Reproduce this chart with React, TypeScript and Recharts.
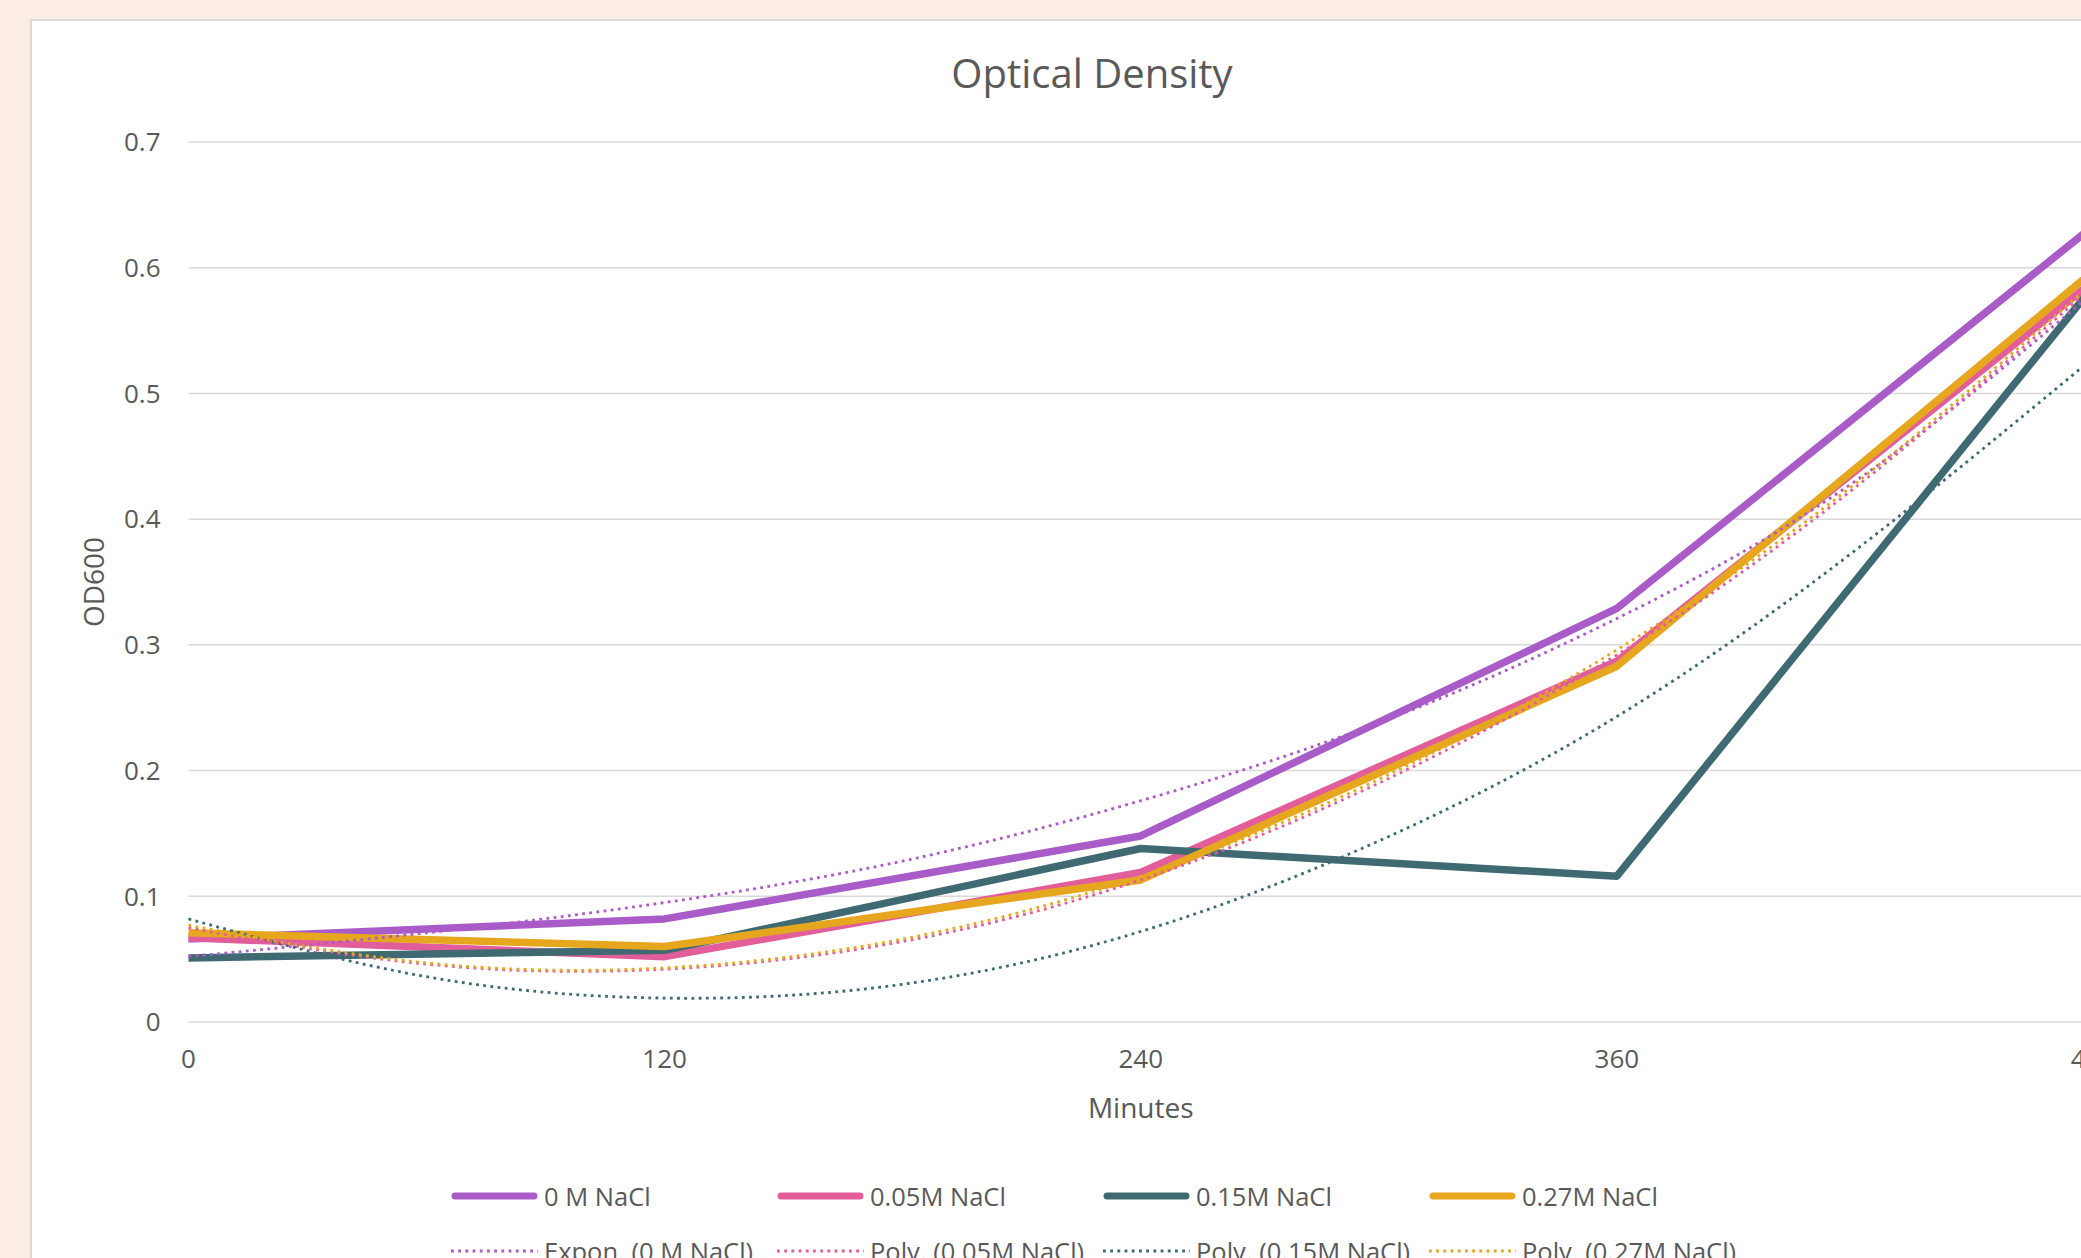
import { CartesianGrid, Label, Line, LineChart, XAxis, YAxis } from "recharts";

// measured OD600 per sampling time (minutes)
const minutes = [0, 120, 240, 360, 480];
const od0M = [0.066, 0.082, 0.148, 0.329, 0.633];
const od005M = [0.067, 0.052, 0.119, 0.287, 0.589];
const od015M = [0.051, 0.057, 0.138, 0.116, 0.585];
const od027M = [0.071, 0.06, 0.113, 0.283, 0.597];

// trendline curves, every 60 min
const trendMinutes = [0, 60, 120, 180, 240, 300, 360, 420, 480];
const expon0M = [0.052, 0.071, 0.095, 0.128, 0.176, 0.238, 0.321, 0.43, 0.58];
const poly005M = [0.075, 0.046, 0.042, 0.064, 0.113, 0.19, 0.292, 0.425, 0.585];
const poly015M = [0.082, 0.036, 0.019, 0.03, 0.072, 0.144, 0.243, 0.375, 0.528];
const poly027M = [0.077, 0.047, 0.043, 0.066, 0.116, 0.193, 0.296, 0.428, 0.588];

const seriesNames = ["0 M NaCl", "0.05M NaCl", "0.15M NaCl", "0.27M NaCl"];
const trendNames = [
  "Expon. (0 M NaCl)",
  "Poly. (0.05M NaCl)",
  "Poly. (0.15M NaCl)",
  "Poly. (0.27M NaCl)",
];
const colors = ["#A95CC8", "#E25E9B", "#3F6A71", "#E6A71F"];

const xTicks = [0, 120, 240, 360, 480];
const yTicks = [0, 0.1, 0.2, 0.3, 0.4, 0.5, 0.6, 0.7];

const FONT = "'Open Sans', 'Liberation Sans', sans-serif";
const INK = "#595959";
const PEACH = "#FBEDE3";
const DOTS = "2.8 4.4";

const toPoints = (xs: number[], ys: number[]) =>
  xs.map((m, i) => ({ m, v: ys[i] }));

const measured = [od0M, od005M, od015M, od027M].map((ys) => toPoints(minutes, ys));
const trends = [expon0M, poly005M, poly015M, poly027M].map((ys) =>
  toPoints(trendMinutes, ys)
);

function AxisTitle(props: any) {
  const { viewBox, value, vertical } = props;
  const { x, y, width, height } = viewBox;
  const cx = vertical ? x + 4.5 : x + width / 2;
  const cy = vertical ? y + height / 2 : y + 85;
  return (
    <text
      x={cx}
      y={cy}
      transform={vertical ? `rotate(-90 ${cx} ${cy})` : undefined}
      textAnchor="middle"
      dominantBaseline="central"
      fill={INK}
      fontSize={28}
      fontFamily={FONT}
    >
      {value}
    </text>
  );
}

export default function App() {
  const tick = { fill: INK, fontSize: 26, fontFamily: FONT };

  return (
    <div
      style={{
        position: "absolute",
        left: 0,
        top: 0,
        width: 2081,
        height: 1258,
        overflow: "hidden",
        background: PEACH,
        fontFamily: FONT,
      }}
    >
      <div
        style={{
          position: "absolute",
          left: 30,
          top: 19,
          width: 2300,
          height: 1400,
          background: "#fff",
          border: "2px solid #D9D9D9",
          boxSizing: "border-box",
        }}
      >
        <div
          style={{
            position: "absolute",
            left: 0,
            top: 32,
            width: 2120,
            textAlign: "center",
            fontSize: 40,
            lineHeight: "40px",
            color: INK,
          }}
        >
          Optical Density
        </div>

        <div style={{ position: "absolute", left: 0, top: 0 }}>
          <LineChart
            width={2200}
            height={1130}
            margin={{ top: 121, right: 139, bottom: 30, left: 56.5 }}
          >
            <CartesianGrid vertical={false} stroke="#D9D9D9" strokeWidth={1.5} />
            <XAxis
              type="number"
              dataKey="m"
              domain={[0, 480]}
              ticks={xTicks}
              axisLine={false}
              tickLine={false}
              tickSize={0}
              tickMargin={28}
              height={99}
              tick={tick}
              allowDuplicatedCategory={false}
            >
              <Label value="Minutes" content={<AxisTitle />} />
            </XAxis>
            <YAxis
              type="number"
              domain={[0, 0.7]}
              ticks={yTicks}
              axisLine={false}
              tickLine={false}
              tickSize={0}
              tickMargin={28}
              width={100}
              tick={tick}
            >
              <Label value="OD600" content={<AxisTitle vertical />} />
            </YAxis>

            {measured.map((pts, i) => (
              <Line
                key={seriesNames[i]}
                data={pts}
                dataKey="v"
                name={seriesNames[i]}
                stroke={colors[i]}
                strokeWidth={7.5}
                strokeLinejoin="round"
                dot={false}
                activeDot={false}
                type="linear"
                isAnimationActive={false}
              />
            ))}
            {trends.map((pts, i) => (
              <Line
                key={trendNames[i]}
                data={pts}
                dataKey="v"
                name={trendNames[i]}
                stroke={colors[i]}
                strokeWidth={2.8}
                strokeDasharray={DOTS}
                dot={false}
                activeDot={false}
                type="natural"
                isAnimationActive={false}
              />
            ))}
          </LineChart>
        </div>

        {[seriesNames, trendNames].map((names, row) =>
          names.map((name, i) => (
            <div
              key={name}
              style={{
                position: "absolute",
                left: 419 + i * 326,
                top: row === 0 ? 1157 : 1212,
                height: 36,
                display: "flex",
                alignItems: "center",
                whiteSpace: "nowrap",
                fontSize: 25.5,
                color: INK,
              }}
            >
              <svg width={87} height={10} style={{ marginRight: 6 }}>
                {row === 0 ? (
                  <line x1={4} y1={5} x2={83} y2={5} stroke={colors[i]} strokeWidth={7} strokeLinecap="round" />
                ) : (
                  <line x1={0} y1={5} x2={87} y2={5} stroke={colors[i]} strokeWidth={2.8} strokeDasharray={DOTS} />
                )}
              </svg>
              {name}
            </div>
          ))
        )}
      </div>
    </div>
  );
}
